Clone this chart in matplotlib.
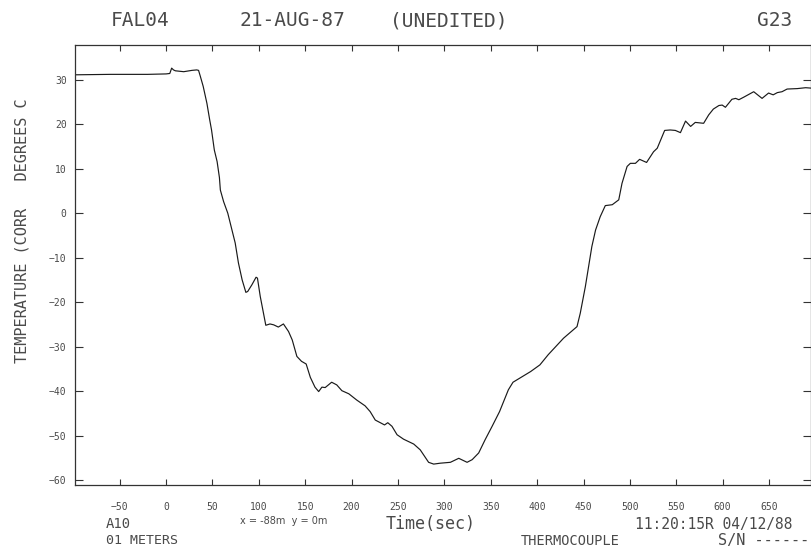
import matplotlib
matplotlib.use("Agg")
import matplotlib.pyplot as plt

# thermocouple trace (time in s, temperature in deg C)
time_s = [
    -98, -60, -20, 0, 4, 6, 8, 10, 19, 28, 33, 35, 37, 40, 44, 47, 49, 52, 55,
    57.5, 58.5, 62, 66.5, 71, 74.5, 78, 82, 86, 88, 92.5, 97, 98.5, 101.5, 105,
    107.5, 112, 116, 121, 126.5, 132, 136, 141, 146, 151, 155.5, 160.5, 164.5,
    168, 171.5, 178.5, 184, 189.5, 197, 205.5, 214.5, 220, 225.5, 231, 235.5,
    239, 243.5, 249, 256, 267, 274, 277.5, 283, 288.5, 295.5, 306.5, 315.5,
    324.5, 330, 337, 344, 351.5, 359.5, 369, 374, 382, 393, 403, 412, 420,
    428.5, 443, 446.5, 452, 455.5, 459, 463, 468, 473.5, 481, 488, 491.5, 497,
    500.5, 506, 510.5, 518, 525.5, 529.5, 537.5, 543.5, 549, 554.5, 560, 565.5,
    570.5, 579.5, 585, 590, 596, 599.5, 603, 610, 614, 617.5, 623, 633.5, 642.5,
    649.5, 654.5, 659, 664, 669.5, 680.5, 689.5, 696,
]
temp_c = [
    31.1, 31.2, 31.2, 31.3, 31.4, 32.6, 32.2, 32.0, 31.8, 32.1, 32.2, 32.1, 30.7,
    28.5, 24.7, 21.0, 18.7, 14.2, 11.6, 8.0, 5.2, 2.6, 0.0, -3.8, -6.7, -11.2,
    -15.0, -17.8, -17.6, -16.1, -14.4, -14.6, -18.7, -22.5, -25.2, -24.9, -25.1,
    -25.6, -24.9, -26.6, -28.5, -32.2, -33.3, -33.9, -36.9, -39.1, -40.1, -39.1,
    -39.2, -38.0, -38.6, -39.9, -40.6, -42.0, -43.3, -44.6, -46.5, -47.1, -47.6,
    -47.1, -47.9, -49.8, -50.8, -51.9, -53.2, -54.3, -56.0, -56.4, -56.2, -56.0,
    -55.1, -56.0, -55.4, -53.9, -50.9, -47.9, -44.6, -39.7, -38.0, -37.0, -35.6,
    -34.1, -31.8, -30.0, -28.1, -25.5, -22.5, -16.5, -12.0, -7.5, -3.8, -0.8,
    1.7, 1.9, 3.0, 6.7, 10.5, 11.2, 11.2, 12.1, 11.4, 13.8, 14.6, 18.6, 18.7,
    18.6, 18.1, 20.7, 19.5, 20.4, 20.2, 22.1, 23.4, 24.2, 24.3, 23.8, 25.6, 25.8,
    25.5, 26.1, 27.3, 25.8, 27.0, 26.6, 27.1, 27.3, 27.9, 28.0, 28.2, 28.1,
]

x_ticks = list(range(-50, 651, 50))
y_ticks = list(range(-60, 31, 10))

title_parts = [("FAL04", 140), ("21-AUG-87", 292), ("(UNEDITED)", 449), ("G23", 775)]

W, H = 812, 556
INK = "#4a4a4a"
MONO = "DejaVu Sans Mono"


def fx(px):
    return px / W


def fy(py):
    return 1 - py / H


fig = plt.figure(figsize=(W / 100, H / 100), dpi=100)
ax = fig.add_axes([fx(75), fy(485), fx(811.5) - fx(75), fy(45) - fy(485)])

ax.plot(time_s, temp_c, color="#1a1a1a", lw=0.85)

ax.set_xlim(-98.2, 695.8)
ax.set_ylim(-61.1, 37.8)
ax.set_xticks(x_ticks)
ax.set_yticks(y_ticks)
ax.tick_params(axis="x", direction="in", length=4, width=0.8, color="#333333",
               top=True, pad=12, labelsize=7, labelcolor=INK)
ax.tick_params(axis="y", direction="in", length=6, width=0.8, color="#333333",
               right=True, pad=6, labelsize=7, labelcolor=INK)
for lbl in ax.get_xticklabels() + ax.get_yticklabels():
    lbl.set_family(MONO)
for sp in ax.spines.values():
    sp.set_color("#333333")
    sp.set_linewidth(0.9)

# header line
for txt, cx in title_parts:
    fig.text(fx(cx), fy(21), txt, ha="center", va="center",
             family=MONO, fontsize=14, color=INK)

# axis title, rotated
fig.text(fx(22), fy(231), "TEMPERATURE (CORR   DEGREES C", rotation=90,
         ha="center", va="center", family=MONO, fontsize=11, color=INK)

# footer annotations
fig.text(fx(106), fy(524), "A10", ha="left", va="center", family=MONO,
         fontsize=10, color=INK)
fig.text(fx(106), fy(541), "01 METERS", ha="left", va="center", family=MONO,
         fontsize=9.5, color=INK)
fig.text(fx(240), fy(521), "x = -88m  y = 0m", ha="left", va="center",
         family="DejaVu Sans", fontsize=7, color=INK)
fig.text(fx(431), fy(524), "Time(sec)", ha="center", va="center", family=MONO,
         fontsize=12, color=INK)
fig.text(fx(793), fy(524), "11:20:15R 04/12/88", ha="right", va="center",
         family=MONO, fontsize=10.5, color=INK)
fig.text(fx(521), fy(541), "THERMOCOUPLE", ha="left", va="center", family=MONO,
         fontsize=9.8, color=INK)
fig.text(fx(718), fy(541), "S/N ------", ha="left", va="center", family=MONO,
         fontsize=11, color=INK)

fig.savefig("out.png", dpi=100)
